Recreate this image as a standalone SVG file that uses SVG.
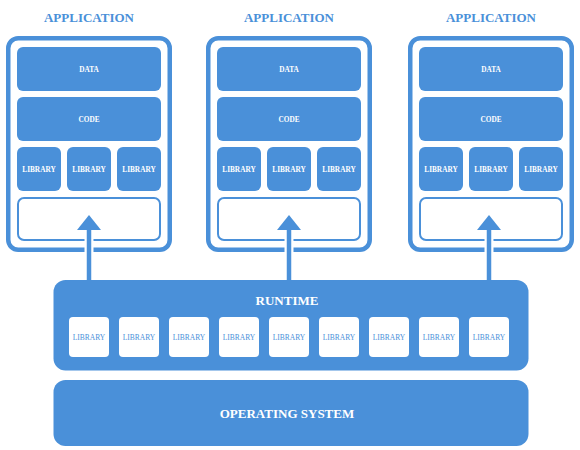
<svg xmlns="http://www.w3.org/2000/svg" width="580" height="450" viewBox="0 0 580 450">
<defs>
<style>
.title{font-family:"Liberation Serif",serif;font-weight:bold;font-size:13px;fill:#4a90d9;text-anchor:middle}
.frame{fill:#fff;stroke:#4a90d9;stroke-width:4.5}
.blk{fill:#4a90d9}
.slot{fill:#fff;stroke:#4a90d9;stroke-width:2}
.lbl{font-family:"Liberation Serif",serif;font-weight:bold;font-size:7.3px;fill:#fff;text-anchor:middle}
.rlib{fill:#fff}
.rlbl{font-family:"Liberation Serif",serif;font-size:7.5px;fill:#4a90d9;text-anchor:middle}
.big{font-family:"Liberation Serif",serif;font-weight:bold;font-size:13px;fill:#fff;text-anchor:middle}
.halo{stroke:#fff;stroke-width:9}
.shaft{stroke:#4a90d9;stroke-width:4.5}
.head{fill:#4a90d9}
</style>
<g id="app-template">
<rect class="frame" x="8.25" y="38.25" width="161.5" height="211.5" rx="10"/>
<rect class="blk" x="17" y="47" width="144" height="44" rx="6"/>
<text class="lbl" x="89" y="72">DATA</text>
<rect class="blk" x="17" y="97" width="144" height="44" rx="6"/>
<text class="lbl" x="89" y="122">CODE</text>
<rect class="blk" x="17" y="147" width="44" height="44" rx="6"/>
<text class="lbl" x="39" y="172">LIBRARY</text>
<rect class="blk" x="67" y="147" width="44" height="44" rx="6"/>
<text class="lbl" x="89" y="172">LIBRARY</text>
<rect class="blk" x="117" y="147" width="44" height="44" rx="6"/>
<text class="lbl" x="139" y="172">LIBRARY</text>
<rect class="slot" x="18" y="198" width="142" height="42" rx="6"/>
</g>
</defs>
<g id="app1">
<text class="title" x="89" y="22">APPLICATION</text>
<use href="#app-template"/>
</g>
<g id="app2">
<text class="title" x="289" y="22">APPLICATION</text>
<use href="#app-template" transform="translate(200,0)"/>
</g>
<g id="app3">
<text class="title" x="491" y="22">APPLICATION</text>
<use href="#app-template" transform="translate(402,0)"/>
</g>
<g id="runtime">
<rect class="blk" x="53.5" y="280" width="475" height="90.5" rx="12"/>
<text class="big" x="287" y="305">RUNTIME</text>
<rect class="rlib" x="69" y="317" width="40" height="40" rx="4"/><text class="rlbl" x="89" y="339.5">LIBRARY</text>
<rect class="rlib" x="119" y="317" width="40" height="40" rx="4"/><text class="rlbl" x="139" y="339.5">LIBRARY</text>
<rect class="rlib" x="169" y="317" width="40" height="40" rx="4"/><text class="rlbl" x="189" y="339.5">LIBRARY</text>
<rect class="rlib" x="219" y="317" width="40" height="40" rx="4"/><text class="rlbl" x="239" y="339.5">LIBRARY</text>
<rect class="rlib" x="269" y="317" width="40" height="40" rx="4"/><text class="rlbl" x="289" y="339.5">LIBRARY</text>
<rect class="rlib" x="319" y="317" width="40" height="40" rx="4"/><text class="rlbl" x="339" y="339.5">LIBRARY</text>
<rect class="rlib" x="369" y="317" width="40" height="40" rx="4"/><text class="rlbl" x="389" y="339.5">LIBRARY</text>
<rect class="rlib" x="419" y="317" width="40" height="40" rx="4"/><text class="rlbl" x="439" y="339.5">LIBRARY</text>
<rect class="rlib" x="469" y="317" width="40" height="40" rx="4"/><text class="rlbl" x="489" y="339.5">LIBRARY</text>
</g>
<g id="os">
<rect class="blk" x="53.5" y="380" width="475" height="66" rx="12"/>
<text class="big" x="287" y="418">OPERATING SYSTEM</text>
</g>
<g id="connectors">
<line class="halo" x1="89" y1="229" x2="89" y2="279"/>
<line class="shaft" x1="89" y1="229" x2="89" y2="280"/>
<polygon class="head" points="89,215 101,230 77,230"/>
<line class="halo" x1="289" y1="229" x2="289" y2="279"/>
<line class="shaft" x1="289" y1="229" x2="289" y2="280"/>
<polygon class="head" points="289,215 301,230 277,230"/>
<line class="halo" x1="489" y1="229" x2="489" y2="279"/>
<line class="shaft" x1="489" y1="229" x2="489" y2="280"/>
<polygon class="head" points="489,215 501,230 477,230"/>
</g>
</svg>
